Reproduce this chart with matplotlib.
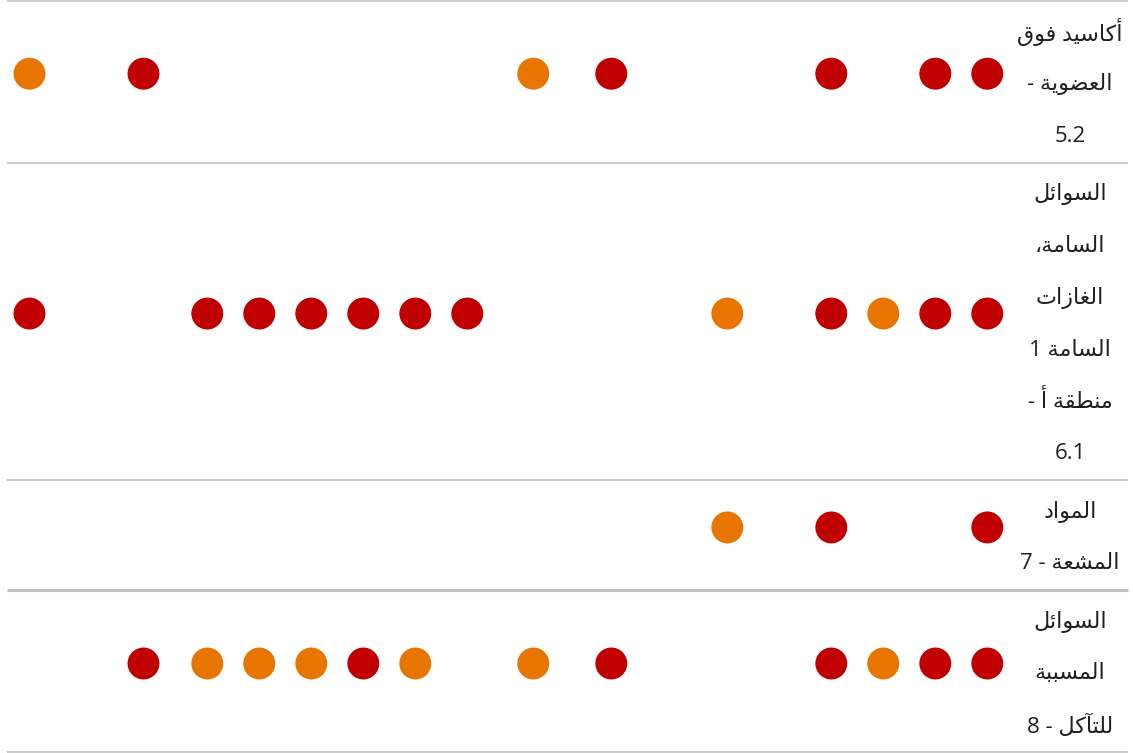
import matplotlib
matplotlib.use('Agg')
import matplotlib.pyplot as plt

# ---------------- data ----------------
categories = [
    'أكاسيد فوق\nالعضوية -\n5.2',
    'السوائل\nالسامة،\nالغازات\nالسامة 1\nمنطقة أ -\n6.1',
    'المواد\nالمشعة - 7',
    'السوائل\nالمسببة\nللتآكل - 8',
]

# horizontal positions of the dots in each row
x_row1 = [29.5, 143.5, 533.3, 611.3, 831.3, 935.3, 987.3]
x_row2 = [29.5, 207.3, 259.3, 311.3, 363.3, 415.3, 467.3, 727.3, 831.3, 883.3, 935.3, 987.3]
x_row3 = [727.3, 831.3, 987.3]
x_row4 = [143.5, 207.3, 259.3, 311.3, 363.3, 415.3, 533.3, 611.3, 831.3, 883.3, 935.3, 987.3]

# status of each dot: 'r' = red, 'o' = orange
s_row1 = ['o', 'r', 'o', 'r', 'r', 'r', 'r']
s_row2 = ['r', 'r', 'r', 'r', 'r', 'r', 'r', 'o', 'r', 'o', 'r', 'r']
s_row3 = ['o', 'r', 'r']
s_row4 = ['r', 'o', 'o', 'o', 'r', 'o', 'o', 'r', 'r', 'o', 'r', 'r']

rows_x = [x_row1, x_row2, x_row3, x_row4]
rows_s = [s_row1, s_row2, s_row3, s_row4]

# ---------------- styles ----------------
COLORS = {'r': '#C00000', 'o': '#E87500'}
GRID = '#BFBFBF'
TEXT = '#1F1F1F'
FONT = ['Open Sans', 'DejaVu Sans']

# ---------------- minimal Arabic shaping ----------------
def _dual(b):
    return (b, b + 1, b + 2, b + 3)

def _right(b):
    return (b, b + 1, None, None)

FORMS = {
    'ء': (0xFE80, None, None, None),
    'آ': _right(0xFE81), 'أ': _right(0xFE83), 'ؤ': _right(0xFE85),
    'إ': _right(0xFE87), 'ئ': _dual(0xFE89), 'ا': _right(0xFE8D),
    'ب': _dual(0xFE8F), 'ة': _right(0xFE93), 'ت': _dual(0xFE95),
    'ث': _dual(0xFE99), 'ج': _dual(0xFE9D), 'ح': _dual(0xFEA1),
    'خ': _dual(0xFEA5), 'د': _right(0xFEA9), 'ذ': _right(0xFEAB),
    'ر': _right(0xFEAD), 'ز': _right(0xFEAF), 'س': _dual(0xFEB1),
    'ش': _dual(0xFEB5), 'ص': _dual(0xFEB9), 'ض': _dual(0xFEBD),
    'ط': _dual(0xFEC1), 'ظ': _dual(0xFEC5), 'ع': _dual(0xFEC9),
    'غ': _dual(0xFECD), 'ف': _dual(0xFED1), 'ق': _dual(0xFED5),
    'ك': _dual(0xFED9), 'ل': _dual(0xFEDD), 'م': _dual(0xFEE1),
    'ن': _dual(0xFEE5), 'ه': _dual(0xFEE9), 'و': _right(0xFEED),
    'ى': _right(0xFEEF), 'ي': _dual(0xFEF1),
}
LAM_ALEF = {'آ': (0xFEF5, 0xFEF6), 'أ': (0xFEF7, 0xFEF8),
            'إ': (0xFEF9, 0xFEFA), 'ا': (0xFEFB, 0xFEFC)}


def shape_word(word):
    out = []
    i, n = 0, len(word)
    while i < n:
        ch = word[i]
        if ch not in FORMS:
            out.append(ch)
            i += 1
            continue
        prev = word[i - 1] if i > 0 else None
        pj = prev is not None and prev in FORMS and FORMS[prev][2] is not None
        if ch == 'ل' and i + 1 < n and word[i + 1] in LAM_ALEF:
            iso, fin = LAM_ALEF[word[i + 1]]
            out.append(chr(fin if pj else iso))
            i += 2
            continue
        nxt = word[i + 1] if i + 1 < n else None
        f = FORMS[ch]
        nj = (nxt is not None and nxt in FORMS and nxt != 'ء' and f[2] is not None)
        if pj and nj:
            cp = f[3]
        elif pj:
            cp = f[1]
        elif nj:
            cp = f[2]
        else:
            cp = f[0]
        if cp is None:
            cp = f[0]
        out.append(chr(cp))
        i += 1
    return ''.join(reversed(out))


def visual(line):
    """Right-to-left display: tokens in reverse order, Arabic words shaped."""
    toks = []
    for t in line.split(' '):
        if any('\u0600' <= c <= '\u06FF' for c in t):
            toks.append(shape_word(t))
        else:
            toks.append(t)
    return ' '.join(reversed(toks))


# ---------------- figure ----------------
W, H = 1133, 753
fig = plt.figure(figsize=(W / 100, H / 100), dpi=100)
ax = fig.add_axes([0, 0, 1, 1])
ax.set_xlim(0, W)
ax.set_ylim(H, 0)
ax.axis('off')

LINE_H = 51.9
PAD = 6.3
top = 0.7
bounds = [top]
for lab in categories:
    n = len(lab.split('\n'))
    bounds.append(bounds[-1] + n * LINE_H + PAD)

# separators
for i, b in enumerate(bounds):
    lw = 2.2 if i == 3 else 1.1
    ax.plot([7, 1128], [b, b], color=GRID, lw=lw, solid_capstyle='butt', zorder=1)

dot_s = 23.0 ** 2
for r, lab in enumerate(categories):
    y0, y1 = bounds[r], bounds[r + 1]
    yc = (y0 + y1) / 2
    xs = rows_x[r]
    cs = [COLORS[k] for k in rows_s[r]]
    ax.scatter(xs, [yc - 8] * len(xs), s=dot_s, c=cs, linewidths=0, zorder=3)
    lines = lab.split('\n')
    n = len(lines)
    for k, ln in enumerate(lines):
        ly = yc + 2.5 + (k - (n - 1) / 2) * LINE_H
        ax.text(1070, ly, visual(ln), ha='center', va='center',
                fontsize=16, color=TEXT, family=FONT, zorder=4)

fig.savefig('out.png', dpi=100)
